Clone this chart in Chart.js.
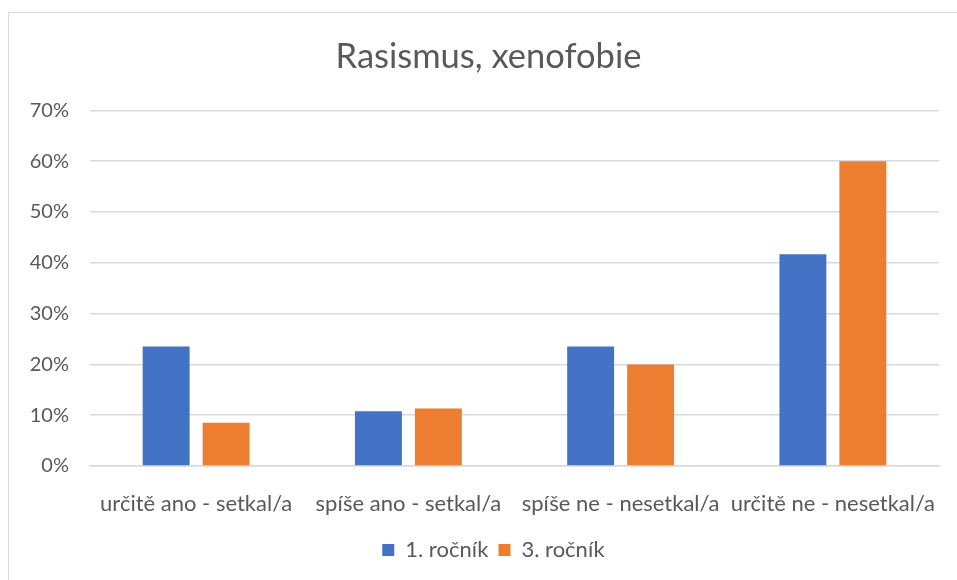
<!DOCTYPE html>
<html>
<head>
<meta charset="utf-8">
<script src="https://cdn.jsdelivr.net/npm/chart.js@4"></script>
<style>
  html, body { margin: 0; padding: 0; background: #fff; }
  #wrap { position: relative; width: 957px; height: 580px; overflow: hidden; }
  #frame { position: absolute; left: 8px; top: 12px; width: 1000px; height: 1000px; border: 1px solid #d9d9d9; box-sizing: border-box; }
  canvas { position: absolute; left: 0; top: 0; }
</style>
</head>
<body>
<div id="wrap">
  <div id="frame"></div>
  <canvas id="chart" width="957" height="580"></canvas>
</div>
<script>
// data
const categories = ["určitě ano - setkal/a", "spíše ano - setkal/a", "spíše ne - nesetkal/a", "určitě ne - nesetkal/a"];
const rocnik1 = [23.5, 10.8, 23.5, 41.7];
const rocnik3 = [8.5, 11.3, 20.0, 60.0];

const FONT = "Lato, 'Open Sans', sans-serif";
const TEXT = "#595959";

// title and legend sit centred on the frame, not on the plot
const shiftBlocks = {
  id: "shiftBlocks",
  afterLayout(chart) {
    if (chart.titleBlock) { chart.titleBlock.left += 19; chart.titleBlock.right += 19; }
    if (chart.legend) { chart.legend.left += 24; chart.legend.right += 24; }
  }
};

new Chart(document.getElementById("chart"), {
  type: "bar",
  data: {
    labels: categories,
    datasets: [
      { label: "1. ročník", data: rocnik1, backgroundColor: "#4472C4" },
      { label: "3. ročník", data: rocnik3, backgroundColor: "#ED7D31" }
    ]
  },
  plugins: [shiftBlocks],
  options: {
    responsive: false,
    animation: false,
    categoryPercentage: 0.565,
    barPercentage: 0.783,
    layout: { padding: { left: 0, right: 18, top: 0, bottom: 9 } },
    plugins: {
      title: {
        display: true,
        text: "Rasismus, xenofobie",
        color: TEXT,
        font: { family: FONT, size: 34.5, weight: "normal" },
        padding: { top: 36, bottom: 33 }
      },
      legend: {
        position: "bottom",
        labels: {
          color: TEXT,
          font: { family: FONT, size: 22 },
          boxWidth: 12,
          boxHeight: 12,
          padding: 10
        }
      },
      tooltip: { enabled: false }
    },
    scales: {
      x: {
        grid: { display: false },
        border: { color: "#d9d9d9", width: 1.5 },
        ticks: { color: TEXT, font: { family: FONT, size: 22 }, padding: 17, maxRotation: 0, autoSkip: false },
        afterFit: s => { s.height = 63; }
      },
      y: {
        min: 0,
        max: 70,
        grid: { color: "#d9d9d9", lineWidth: 1.5, drawTicks: false },
        border: { display: false },
        ticks: {
          stepSize: 10,
          color: TEXT,
          font: { family: FONT, size: 20 },
          padding: 21,
          callback: v => v + "%"
        },
        afterFit: s => { s.width = 90; }
      }
    }
  }
});
</script>
</body>
</html>
